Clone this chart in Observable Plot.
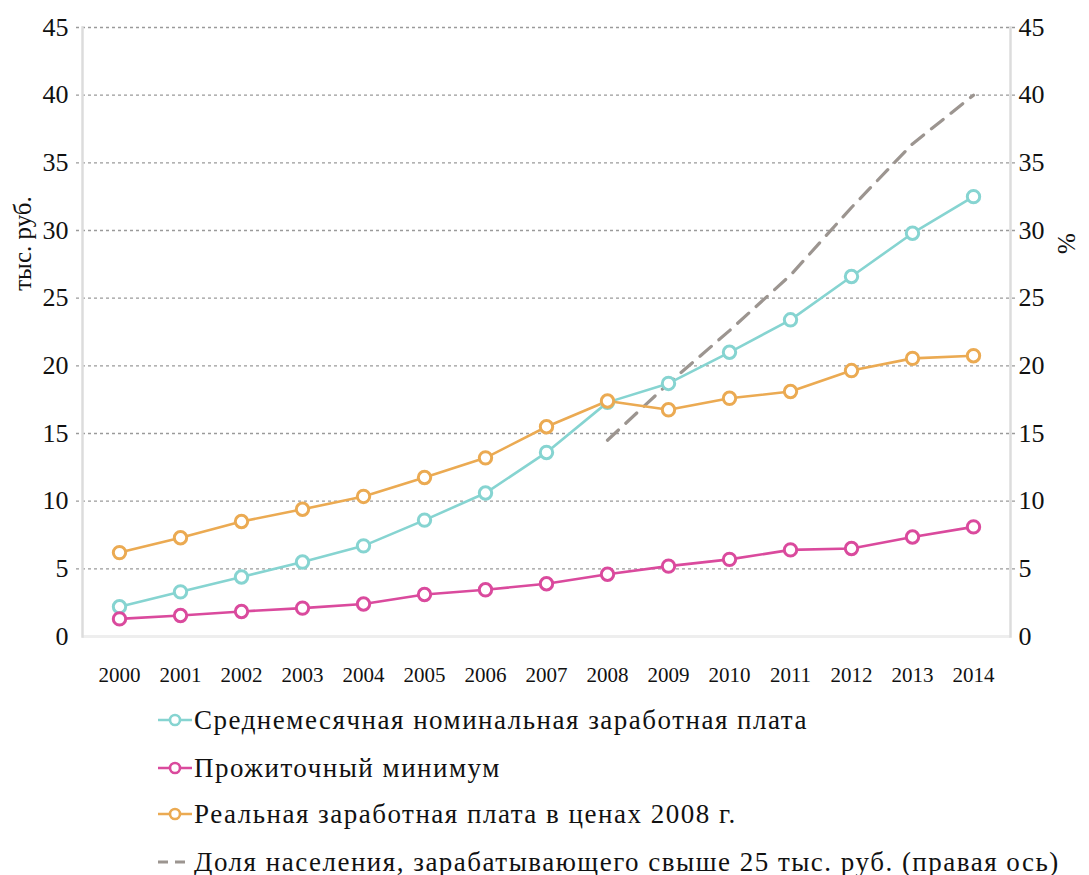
<!DOCTYPE html>
<html>
<head>
<meta charset="utf-8">
<script src="https://cdn.jsdelivr.net/npm/d3@7"></script>
<script src="https://cdn.jsdelivr.net/npm/@observablehq/plot@0.6"></script>
<style>
  body { margin: 0; background: #fff; font-family: "Liberation Serif", "Noto Serif", "DejaVu Serif", "Liberation Sans", sans-serif; }
  #wrap { position: relative; width: 1089px; height: 875px; }
  .leg { position: absolute; left: 158px; display: flex; align-items: center; font-size: 27px; letter-spacing: 1.5px; color: #111; white-space: nowrap; }
  .leg svg { margin-right: 2px; }
</style>
</head>
<body>
<div id="wrap"><div id="chart"></div><div id="legend"></div></div>
<script>
const years = [2000, 2001, 2002, 2003, 2004, 2005, 2006, 2007, 2008, 2009, 2010, 2011, 2012, 2013, 2014];
const nominalWage = [2.2, 3.3, 4.4, 5.5, 6.7, 8.6, 10.6, 13.6, 17.3, 18.7, 21.0, 23.4, 26.6, 29.8, 32.5];
const subsistenceMin = [1.3, 1.55, 1.85, 2.1, 2.4, 3.1, 3.45, 3.9, 4.6, 5.2, 5.7, 6.4, 6.5, 7.35, 8.1];
const realWage = [6.2, 7.3, 8.5, 9.4, 10.35, 11.75, 13.2, 15.5, 17.4, 16.75, 17.6, 18.1, 19.65, 20.55, 20.75];
const shareYears = [2008, 2009, 2010, 2011, 2012, 2013, 2014];
const shareAbove25 = [14.5, 18.7, 22.6, 26.7, 31.7, 36.4, 40.0];
const yTicks = [0, 5, 10, 15, 20, 25, 30, 35, 40, 45];

const seriesNames = [
  "Среднемесячная номинальная заработная плата",
  "Прожиточный минимум",
  "Реальная заработная плата в ценах 2008 г.",
  "Доля населения, зарабатывающего свыше 25 тыс. руб. (правая ось)"
];
const colors = ["#86d4d1", "#da4a9d", "#ebaa52", "#9c9590"];
const leftLabel = "тыс. руб.";
const rightLabel = "%";

const rows = [];
[nominalWage, subsistenceMin, realWage].forEach((arr, i) => {
  arr.forEach((v, j) => rows.push({ year: years[j], value: v, series: seriesNames[i] }));
});
const shareRows = shareYears.map((y, j) => ({ year: y, value: shareAbove25[j] }));

const font = "'Liberation Serif', 'Noto Serif', 'DejaVu Serif', 'Liberation Sans', sans-serif";

const chart = Plot.plot({
  width: 1089,
  height: 700,
  marginTop: 27,
  marginBottom: 64,
  marginLeft: 82,
  marginRight: 79,
  style: { fontFamily: font, background: "#fff", color: "#111" },
  x: { type: "point", domain: years, padding: 0.5 },
  y: { domain: [0, 45] },
  color: { domain: seriesNames.slice(0, 3), range: colors.slice(0, 3) },
  marks: [
    Plot.ruleY(yTicks.filter(d => d > 0), { stroke: "#9a9a9a", strokeDasharray: "3,3", strokeWidth: 1.3, insetLeft: -6, insetRight: -7 }),
    Plot.ruleY([0], { stroke: "#eeeeee", strokeWidth: 3 }),
    Plot.frame({ anchor: "left", stroke: "#dcdcdc", strokeWidth: 2.5 }),
    Plot.frame({ anchor: "right", stroke: "#dcdcdc", strokeWidth: 2.5 }),
    Plot.axisY(yTicks, { anchor: "left", tickSize: 0, tickPadding: 14, fontSize: 26, label: null }),
    Plot.axisY(yTicks, { anchor: "right", tickSize: 0, tickPadding: 8, fontSize: 26, label: null }),
    Plot.axisX(years, { anchor: "bottom", tickSize: 0, tickPadding: 31, fontSize: 21, label: null, tickFormat: d => String(d) }),
    Plot.text([leftLabel], { frameAnchor: "top-left", dx: -60, dy: 216, rotate: -90, textAnchor: "middle", lineAnchor: "middle", fontSize: 25, fill: "#111" }),
    Plot.text([rightLabel], { frameAnchor: "top-right", dx: 56, dy: 216, rotate: -90, textAnchor: "middle", lineAnchor: "middle", fontSize: 25, fill: "#111" }),
    Plot.line(shareRows, { x: "year", y: "value", stroke: colors[3], strokeWidth: 3.2, strokeDasharray: "15,10" }),
    Plot.line(rows, { x: "year", y: "value", z: "series", stroke: "series", strokeWidth: 2.6 }),
    Plot.dot(rows, { x: "year", y: "value", stroke: "series", fill: "#fff", r: 6.2, strokeWidth: 3 })
  ]
});
document.getElementById("chart").appendChild(chart);

// Legend (HTML, below the SVG)
const legendTops = [720, 768, 814, 862];
const legend = document.getElementById("legend");
seriesNames.forEach((name, i) => {
  const div = document.createElement("div");
  div.className = "leg";
  div.style.top = (legendTops[i] - 16) + "px";
  const sym = i < 3
    ? `<svg width="34" height="20"><line x1="0" y1="10" x2="34" y2="10" stroke="${colors[i]}" stroke-width="2.6"/><circle cx="17" cy="10" r="5" fill="#fff" stroke="${colors[i]}" stroke-width="2.6"/></svg>`
    : `<svg width="34" height="20"><line x1="0" y1="10" x2="34" y2="10" stroke="${colors[i]}" stroke-width="3" stroke-dasharray="10,7"/></svg>`;
  div.innerHTML = sym + `<span>${name}</span>`;
  div.style.height = "32px";
  legend.appendChild(div);
});
</script>
</body>
</html>
